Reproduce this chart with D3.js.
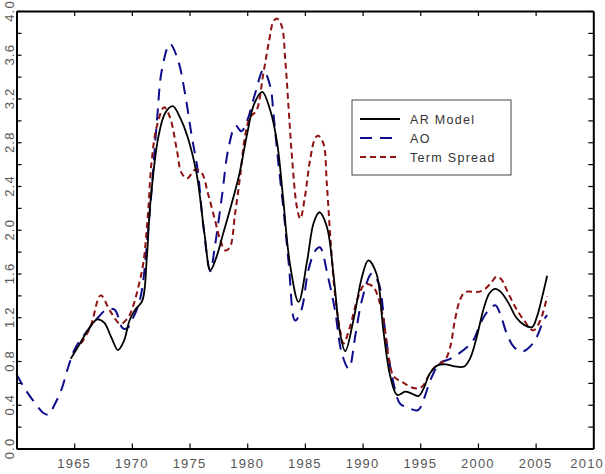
<!DOCTYPE html>
<html><head><meta charset="utf-8">
<script src="https://cdn.jsdelivr.net/npm/d3@7"></script>
<style>
html,body{margin:0;padding:0;background:#fff;}
svg{display:block;}
text{font-family:"Liberation Sans",Arial,sans-serif;}
</style></head><body>
<svg id="c" width="605" height="474"></svg>
<script>
// ---- data ----
const xTickYears = [1965,1970,1975,1980,1985,1990,1995,2000,2005,2010];
const yTickLabels = ["0.0","0.4","0.8","1.2","1.6","2.0","2.4","2.8","3.2","3.6","4.0"];
const legendNames = ["AR Model","AO","Term Spread"];

const arYears = [1964.7,1965.5,1966.3,1967.0,1967.6,1968.2,1968.8,1969.3,1969.8,1970.3,1970.9,1971.3,1971.6,1972.3,1972.9,1973.55,1974.2,1974.8,1975.6,1976.3,1976.8,1977.3,1977.9,1978.6,1979.3,1980.0,1980.6,1981.3,1982.0,1982.6,1983.1,1983.7,1984.45,1985.2,1985.75,1986.25,1986.9,1987.5,1988.05,1988.5,1989.2,1989.95,1990.5,1991.2,1991.8,1992.4,1993.0,1993.7,1994.3,1994.85,1995.3,1995.8,1996.5,1997.2,1998.0,1998.8,1999.3,1999.8,2000.5,2001.0,2001.5,2002.0,2002.7,2003.3,2004.0,2004.7,2005.1,2005.6,2006.0];
const arValues = [0.82,0.96,1.10,1.18,1.15,1.02,0.90,0.98,1.17,1.27,1.35,1.75,2.24,2.85,3.07,3.13,3.02,2.86,2.52,1.96,1.63,1.74,1.96,2.22,2.50,2.88,3.15,3.26,3.09,2.79,2.30,1.69,1.34,1.72,2.06,2.16,2.03,1.57,1.05,0.89,1.17,1.57,1.72,1.60,1.08,0.66,0.49,0.52,0.50,0.48,0.55,0.68,0.76,0.77,0.75,0.75,0.82,0.98,1.28,1.42,1.46,1.43,1.32,1.20,1.13,1.11,1.20,1.40,1.58];

const aoYears = [1960.0,1960.7,1961.5,1962.4,1962.8,1963.2,1963.9,1964.5,1965.1,1966.1,1967.0,1967.8,1968.5,1969.2,1969.6,1970.0,1970.7,1971.5,1972.2,1972.6,1973.3,1974.0,1974.6,1975.2,1975.7,1976.2,1976.8,1977.2,1977.8,1978.4,1979.0,1979.5,1980.0,1980.7,1981.4,1982.0,1982.3,1982.7,1983.15,1983.6,1984.15,1984.7,1985.3,1985.9,1986.3,1987.0,1987.6,1988.2,1988.8,1989.4,1989.95,1990.8,1991.4,1991.95,1992.5,1993.25,1993.8,1994.8,1995.3,1995.9,1996.7,1997.6,1998.75,1999.6,2000.2,2000.8,2001.5,2001.9,2002.5,2003.1,2003.8,2004.5,2005.1,2005.7,2006.0];
const aoValues = [0.68,0.55,0.43,0.32,0.31,0.38,0.54,0.75,0.92,1.07,1.19,1.27,1.27,1.10,1.10,1.17,1.36,2.10,3.03,3.46,3.70,3.55,3.25,2.85,2.55,2.03,1.62,1.85,2.30,2.76,2.95,2.90,3.00,3.25,3.46,3.31,3.03,2.61,2.18,1.69,1.17,1.27,1.63,1.81,1.84,1.57,1.27,0.87,0.73,1.05,1.36,1.60,1.51,1.08,0.69,0.41,0.38,0.35,0.45,0.63,0.78,0.82,0.90,0.99,1.14,1.25,1.31,1.24,1.05,0.93,0.885,0.93,1.02,1.175,1.22];

const tsYears = [1965.6,1966.4,1967.3,1968.1,1969.0,1969.7,1970.1,1970.5,1971.0,1971.4,1971.7,1972.15,1972.8,1973.3,1973.9,1974.3,1974.8,1975.5,1976.05,1976.6,1977.2,1977.65,1978.1,1978.5,1978.95,1979.4,1979.8,1980.25,1980.8,1981.4,1981.85,1982.3,1982.6,1983.0,1983.3,1983.6,1983.9,1984.3,1984.6,1985.0,1985.45,1985.9,1986.15,1986.6,1986.9,1987.2,1987.6,1988.05,1988.35,1988.9,1989.6,1990.2,1990.9,1991.7,1992.25,1992.7,1993.55,1994.55,1995.15,1995.7,1996.3,1997.15,1997.6,1998.0,1998.45,1998.9,1999.9,2000.5,2001.1,2001.6,2002.0,2002.5,2003.2,2004.0,2004.8,2005.4,2006.0];
const tsValues = [0.96,1.11,1.40,1.26,1.14,1.20,1.30,1.45,1.70,2.15,2.61,2.94,3.12,3.03,2.73,2.52,2.47,2.55,2.52,2.33,2.09,1.91,1.81,1.84,2.15,2.50,2.85,3.03,3.09,3.43,3.70,3.91,3.93,3.86,3.55,3.09,2.64,2.21,2.10,2.30,2.64,2.84,2.86,2.79,2.42,1.94,1.42,1.08,0.96,1.11,1.38,1.50,1.48,1.24,0.84,0.66,0.60,0.55,0.565,0.66,0.75,0.81,0.93,1.17,1.36,1.43,1.43,1.45,1.51,1.57,1.55,1.45,1.30,1.17,1.08,1.17,1.39];

// ---- layout ----
const svg = d3.select("#c");
const W = 605;
const L = 16.5, R = 593.3, T = 11, B = 448.5;
const x = d3.scaleLinear().domain([1960, 2010]).range([L, R]);
const y = d3.scaleLinear().domain([0, 4]).range([B, T]);
const textColor = "#555";

const series = [
  {name: legendNames[0], xs: arYears, ys: arValues, color: "#000000", dash: null, w: 1.8},
  {name: legendNames[1], xs: aoYears, ys: aoValues, color: "#0c0c8c", dash: "12,8", w: 2},
  {name: legendNames[2], xs: tsYears, ys: tsValues, color: "#8e1212", dash: "6,4", w: 2}
];

const line = d3.line().x(d => x(d[0])).y(d => y(d[1])).curve(d3.curveCatmullRom.alpha(0.5));

const gLines = svg.append("g");
[series[1], series[2], series[0]].forEach(s => {
  const pts = s.xs.map((v, i) => [v, s.ys[i]]);
  gLines.append("path").datum(pts)
    .attr("d", line)
    .attr("fill", "none")
    .attr("stroke", s.color)
    .attr("stroke-width", s.w)
    .attr("stroke-dasharray", s.dash)
    .attr("stroke-linejoin", "round");
});

// ---- axes (ticks inward) ----
const minorY = d3.range(0, 4.0001, 0.2);
const axStyle = g => {
  g.select(".domain").attr("stroke", "#000").attr("stroke-width", 2);
  g.selectAll(".tick line").attr("stroke", "#000").attr("stroke-width", 1.2);
  g.selectAll(".tick text").remove();
};
svg.append("g").attr("transform", `translate(${L},0)`)
  .call(d3.axisRight(y).tickValues(minorY).tickSize(5).tickSizeOuter(0).tickFormat(""))
  .call(axStyle);
svg.append("g").attr("transform", `translate(${R},0)`)
  .call(d3.axisLeft(y).tickValues(minorY).tickSize(5).tickSizeOuter(0).tickFormat(""))
  .call(axStyle);
svg.append("g").attr("transform", `translate(0,${B})`)
  .call(d3.axisTop(x).tickValues(xTickYears.slice(0, -1)).tickSize(5).tickSizeOuter(0).tickFormat(""))
  .call(axStyle);
svg.append("g").attr("transform", `translate(0,${T})`)
  .call(d3.axisBottom(x).tickValues(xTickYears.slice(0, -1)).tickSize(5).tickSizeOuter(0).tickFormat(""))
  .call(axStyle);

// x labels (last one kept inside the window)
const xl = svg.append("g").selectAll("text").data(xTickYears).join("text")
  .attr("x", d => x(d)).attr("y", 467.5)
  .attr("text-anchor", "middle")
  .attr("font-size", 13).attr("letter-spacing", 1.2)
  .attr("fill", textColor)
  .text(d => d);
xl.each(function() {
  const bb = this.getBBox();
  if (bb.x + bb.width > W - 1) {
    d3.select(this).attr("x", +d3.select(this).attr("x") - (bb.x + bb.width - (W - 1)));
  }
});

// y labels rotated
svg.append("g").selectAll("text").data(yTickLabels).join("text")
  .attr("transform", d => `translate(13.5,${y(+d)}) rotate(-90)`)
  .attr("text-anchor", "middle")
  .attr("font-size", 13).attr("letter-spacing", 1.2)
  .attr("fill", textColor)
  .text(d => d);

// ---- legend ----
const lg = svg.append("g");
lg.append("rect").attr("x", 352).attr("y", 100).attr("width", 159).attr("height", 75)
  .attr("fill", "#fff").attr("stroke", "#444").attr("stroke-width", 1);
const rowY = [119, 138, 157];
series.forEach((s, i) => {
  lg.append("line").attr("x1", 360).attr("x2", 400).attr("y1", rowY[i]).attr("y2", rowY[i])
    .attr("stroke", s.color).attr("stroke-width", s.w).attr("stroke-dasharray", s.dash);
  lg.append("text").attr("x", 410).attr("y", rowY[i] + 4.5)
    .attr("font-size", 12.5).attr("letter-spacing", 1.3)
    .attr("fill", "#333").text(s.name);
});
</script>
</body></html>
